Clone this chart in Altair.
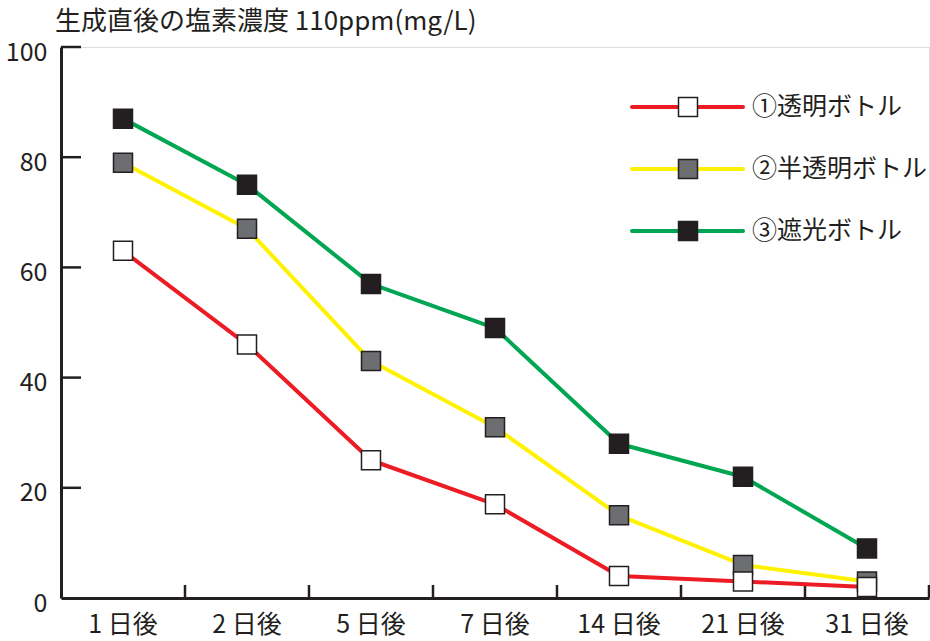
import altair as alt
import pandas as pd

days = ["1 日後", "2 日後", "5 日後", "7 日後", "14 日後", "21 日後", "31 日後"]
series = ["①透明ボトル", "②半透明ボトル", "③遮光ボトル"]
clear_vals = [63, 46, 25, 17, 4, 3, 2]
semi_vals = [79, 67, 43, 31, 15, 6, 3]
dark_vals = [87, 75, 57, 49, 28, 22, 9]
y_ticks = [0, 20, 40, 60, 80, 100]
line_colors = ["#ed1c24", "#fff200", "#00a651"]
fill_colors = ["#ffffff", "#6d6e71", "#231f20"]
title_text = "生成直後の塩素濃度 110ppm(mg/L)"

FONT = "Noto Sans CJK JP"
INK = "#231f20"
W, H = 868, 551

rows = []
for s, vals in [(series[2], dark_vals), (series[1], semi_vals), (series[0], clear_vals)]:
    for d, v in zip(days, vals):
        rows.append({"day": d, "series": s, "value": v})
df = pd.DataFrame(rows)

xscale = alt.Scale(type="band", domain=days, paddingInner=0, paddingOuter=0)
yscale = alt.Scale(domain=[0, 100], nice=False, zero=True)
xaxis = alt.Axis(title=None, ticks=False, tickSize=0, grid=False, labelAngle=0,
                 labelPadding=14, labelFontSize=25, labelFont=FONT, labelColor=INK,
                 domainColor=INK, domainWidth=3)
yaxis = alt.Axis(title=None, values=y_ticks, ticks=False, tickSize=0, grid=False,
                 labelPadding=14, labelFontSize=25, labelFont=FONT, labelColor=INK,
                 labelOffset=5, domainColor=INK, domainWidth=3)

x_enc = alt.X("day:N", sort=days, scale=xscale, axis=xaxis)
y_enc = alt.Y("value:Q", scale=yscale, axis=yaxis)
color_enc = alt.Color("series:N", scale=alt.Scale(domain=series, range=line_colors), legend=None)
fill_enc = alt.Fill("series:N", scale=alt.Scale(domain=series, range=fill_colors), legend=None)

lines = alt.Chart(df).mark_line(strokeWidth=4, strokeJoin="round").encode(
    x=x_enc, y=y_enc, color=color_enc, detail="series:N")
points = alt.Chart(df).mark_square(size=361, filled=True, opacity=1, stroke=INK, strokeWidth=1.5).encode(
    x=x_enc, y=y_enc, fill=fill_enc)

ytick_df = pd.DataFrame({"value": y_ticks[1:]})
yticks = alt.Chart(ytick_df).mark_rule(color=INK, strokeWidth=2.5).encode(
    y=y_enc, x=alt.value(0), x2=alt.value(20))

xtick_df = pd.DataFrame({"day": days})
xticks = alt.Chart(xtick_df).mark_rule(color=INK, strokeWidth=2.5).encode(
    x=alt.X("day:N", sort=days, scale=xscale, axis=xaxis, bandPosition=1),
    y=alt.value(H - 13), y2=alt.value(H))

main = alt.layer(yticks, xticks, lines, points)

leg_df = pd.DataFrame({"series": series})
ly = alt.Y("series:N", scale=alt.Scale(type="point", domain=series, range=[60, 184], padding=0), axis=None)
leg_line = alt.Chart(leg_df).mark_rule(strokeWidth=4, strokeCap="round").encode(
    x=alt.value(571), x2=alt.value(682), y=ly, color=color_enc)
leg_pt = alt.Chart(leg_df).mark_square(size=361, filled=True, opacity=1, stroke=INK, strokeWidth=1.5).encode(
    x=alt.value(627), y=ly, fill=fill_enc)
leg_txt = alt.Chart(leg_df).mark_text(align="left", baseline="middle", fontSize=25, font=FONT, color=INK).encode(
    x=alt.value(691), y=ly, text="series:N")
legend = alt.layer(leg_line, leg_pt, leg_txt)

chart = alt.layer(main, legend).resolve_scale(y="independent").properties(
    width=W, height=H,
    padding={"left": 61, "top": 47, "right": 1, "bottom": 43},
    autosize=alt.AutoSizeParams(type="none"),
    title=alt.TitleParams(title_text, anchor="start", frame="group", dx=-6, offset=5,
                          fontSize=26, font=FONT, fontWeight="normal", color=INK),
).configure_view(stroke=None).configure(background="white")

chart.save("out.html", embed_options={"renderer": "svg", "actions": False})
